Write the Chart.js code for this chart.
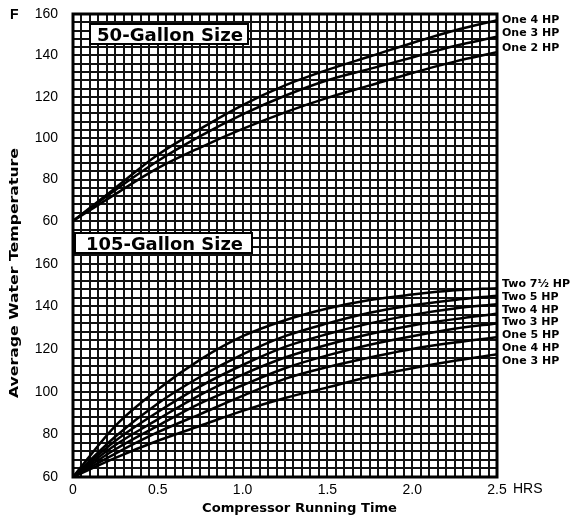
<!DOCTYPE html>
<html>
<head>
<meta charset="utf-8">
<script src="https://cdn.jsdelivr.net/npm/chart.js@4.4.1/dist/chart.umd.min.js"></script>
<style>
  html, body { margin: 0; padding: 0; background: #fff; }
  #wrap { width: 580px; height: 518px; }
</style>
</head>
<body>
<div id="wrap"><canvas id="temps"></canvas></div>
<script>
const hours = [0, 0.25, 0.5, 0.75, 1.0, 1.25, 1.5, 1.75, 2.0, 2.25, 2.5];

// 50-gallon tank
const names50 = ["One 4 HP", "One 3 HP", "One 2 HP"];
const one4hp50 = [60, 76, 92, 104.5, 116, 125.5, 133, 139.5, 146, 152, 157];
const one3hp50 = [60, 75, 89, 101, 111.5, 120.5, 128, 133.5, 139, 144.5, 149];
const one2hp50 = [60, 73, 85.5, 95.5, 104.5, 112.5, 119.5, 125.5, 131.5, 137, 141.5];

// 105-gallon tank
const names105 = ["Two 7½ HP", "Two 5 HP", "Two 4 HP", "Two 3 HP", "One 5 HP", "One 4 HP", "One 3 HP"];
const two7hp105 = [60, 84, 101, 115, 126, 133.5, 139, 143, 145.5, 147.5, 148.5];
const two5hp105 = [60, 79, 94.5, 107, 117.5, 126, 132, 137, 140.5, 143, 145];
const two4hp105 = [60, 77, 90.5, 102.5, 112.5, 121, 127, 132, 136, 139, 141];
const two3hp105 = [60, 75, 87, 98.5, 108, 116, 122, 127, 131, 134, 136.5];
const one5hp105 = [60, 73, 84, 94.5, 103, 111, 117, 122, 126, 129.5, 132];
const one4hp105 = [60, 71, 81, 89.5, 98, 106, 111.5, 116, 120, 123, 125.5];
const one3hp105 = [60, 69, 77, 84, 91, 97, 102, 107, 111, 114.5, 117.5];

const hourTicks = [0, 0.5, 1.0, 1.5, 2.0, 2.5];
const tempTicks = [60, 80, 100, 120, 140, 160];

const vals50 = [one4hp50, one3hp50, one2hp50];
const vals105 = [two7hp105, two5hp105, two4hp105, two3hp105, one5hp105, one4hp105, one3hp105];

function series(name, vals, axis) {
  return {
    label: name,
    data: hours.map((h, i) => ({ x: h, y: vals[i] })),
    yAxisID: axis,
    borderColor: "#000",
    borderWidth: 2.5,
    pointRadius: 0,
    cubicInterpolationMode: "monotone",
  };
}

function hourLabel(v) {
  const hit = hourTicks.find((t) => Math.abs(t - v) < 1e-6);
  if (hit === undefined) return "";
  return hit === 0 ? "0" : hit.toFixed(1);
}

function tempLabel(v) {
  return tempTicks.includes(Math.round(v)) && Math.abs(v - Math.round(v)) < 1e-6 ? String(Math.round(v)) : "";
}

function fitText(ctx, text, x, y, width) {
  const w = ctx.measureText(text).width;
  ctx.save();
  ctx.translate(x, y);
  ctx.scale(width / w, 1);
  ctx.fillText(text, 0, 0);
  ctx.restore();
}

function endLabels(ctx, chart, names, arrays, axisId) {
  const yScale = chart.scales[axisId];
  const area = chart.chartArea;
  let prev = area.top + 6 - 12.8;
  names.forEach((n, i) => {
    const last = arrays[i][arrays[i].length - 1];
    const y = Math.max(yScale.getPixelForValue(last) - 4, prev + 12.8);
    ctx.fillText(n, area.right + 5, y);
    prev = y;
  });
}

// y axes: fixed width, no extra label padding at the ends
function fitY(scale) {
  scale.width = 73;
  scale.paddingTop = 0;
  scale.paddingBottom = 0;
}

const decor = {
  id: "decor",
  beforeDatasetsDraw(chart) {
    const ctx = chart.ctx;
    const a = chart.chartArea;
    ctx.save();
    ctx.fillStyle = "#fff";
    ctx.strokeStyle = "#000";
    ctx.lineWidth = 2;
    ctx.fillRect(a.left + 17, a.top + 10, 158, 20);
    ctx.strokeRect(a.left + 17, a.top + 10, 158, 20);
    ctx.fillRect(a.left + 2, a.top + 219, 177, 20);
    ctx.strokeRect(a.left + 2, a.top + 219, 177, 20);
    ctx.fillStyle = "#000";
    ctx.font = "bold 18px 'DejaVu Sans'";
    ctx.textBaseline = "alphabetic";
    fitText(ctx, "50-Gallon Size", a.left + 24, a.top + 27, 146);
    fitText(ctx, "105-Gallon Size", a.left + 13, a.top + 236, 157);
    ctx.restore();
  },
  afterDatasetsDraw(chart) {
    const ctx = chart.ctx;
    const a = chart.chartArea;
    ctx.save();
    ctx.strokeStyle = "#000";
    ctx.lineWidth = 3;
    ctx.strokeRect(a.left, a.top, a.right - a.left, a.bottom - a.top);
    ctx.restore();
  },
  afterDraw(chart) {
    const ctx = chart.ctx;
    const a = chart.chartArea;
    ctx.save();
    ctx.fillStyle = "#000";
    ctx.textBaseline = "middle";
    ctx.textAlign = "left";

    ctx.font = "bold 11px 'DejaVu Sans'";
    endLabels(ctx, chart, names50, vals50, "yTop");
    endLabels(ctx, chart, names105, vals105, "yBot");

    ctx.font = "14px 'Liberation Sans', Arial, sans-serif";
    ctx.fillText("HRS", chart.scales.x.getPixelForValue(2.5) + 16, a.bottom + 12);

    ctx.font = "bold 14px 'Liberation Sans', Arial, sans-serif";
    ctx.fillText("F", 10, 15);

    ctx.font = "bold 13px 'DejaVu Sans'";
    ctx.textBaseline = "alphabetic";
    fitText(ctx, "Compressor Running Time", 202, 512, 195);

    ctx.translate(18, 398);
    ctx.rotate(-Math.PI / 2);
    fitText(ctx, "Average Water Temperature", 0, 0, 250);
    ctx.restore();
  },
};

const tickFont = { family: "'Liberation Sans', Arial, sans-serif", size: 14 };
const gridStyle = { color: "#111", lineWidth: 2, drawTicks: false };

new Chart(document.getElementById("temps"), {
  type: "line",
  data: {
    datasets: [
      ...names50.map((n, i) => series(n, vals50[i], "yTop")),
      ...names105.map((n, i) => series(n, vals105[i], "yBot")),
    ],
  },
  options: {
    responsive: true,
    maintainAspectRatio: false,
    animation: false,
    layout: { padding: { top: 14, right: 83, left: 0, bottom: 0 } },
    plugins: { legend: { display: false }, tooltip: { enabled: false } },
    scales: {
      x: {
        type: "linear",
        min: 0,
        max: 2.5,
        grid: gridStyle,
        border: { display: false },
        ticks: {
          count: 51,
          autoSkip: false,
          maxRotation: 0,
          padding: 5,
          color: "#000",
          font: tickFont,
          callback: hourLabel,
        },
        afterFit(scale) { scale.height = 41; },
      },
      yBot: {
        type: "linear",
        position: "left",
        stack: "temp",
        stackWeight: 256,
        min: 60,
        max: 180,
        grid: gridStyle,
        border: { display: false },
        ticks: {
          stepSize: 4,
          autoSkip: false,
          padding: 15,
          color: "#000",
          font: tickFont,
          callback: (v) => (v > 160 ? "" : tempLabel(v)),
        },
        afterFit: fitY,
      },
      yTop: {
        type: "linear",
        position: "left",
        stack: "temp",
        stackWeight: 207,
        min: 60,
        max: 160,
        grid: gridStyle,
        border: { display: false },
        ticks: {
          stepSize: 4,
          autoSkip: false,
          padding: 15,
          color: "#000",
          font: tickFont,
          callback: tempLabel,
        },
        afterFit: fitY,
      },
    },
  },
  plugins: [decor],
});
</script>
</body>
</html>
